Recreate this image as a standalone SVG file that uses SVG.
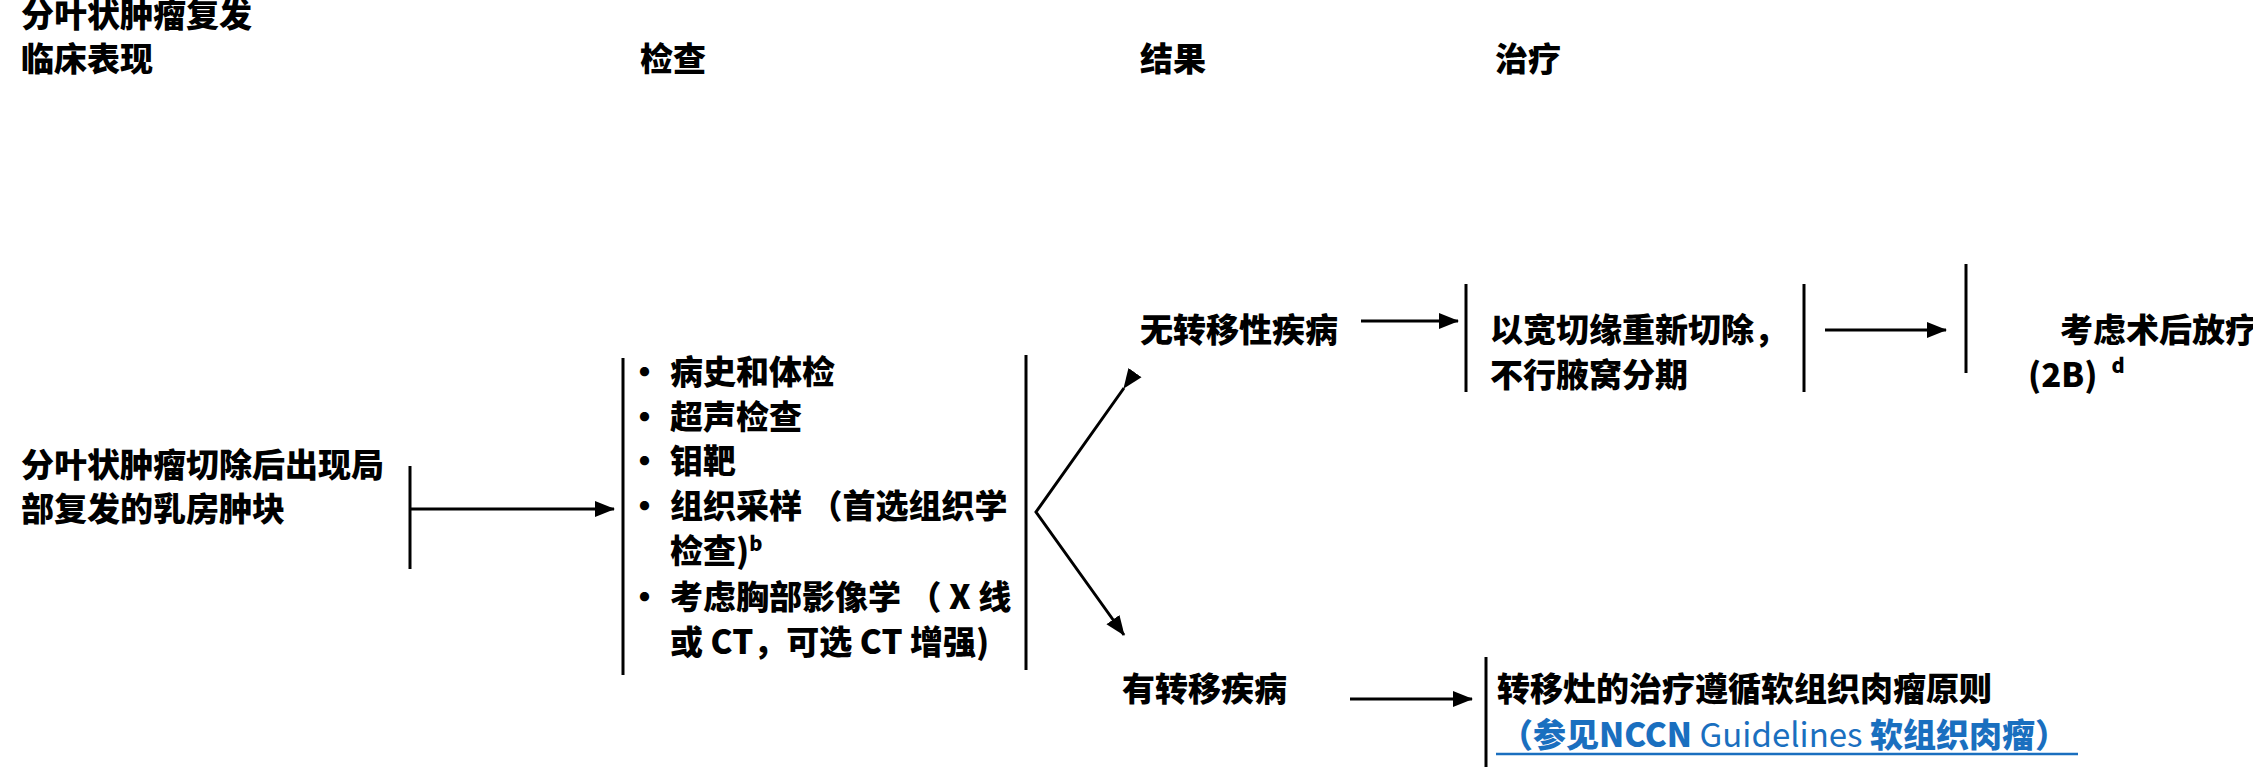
<svg xmlns="http://www.w3.org/2000/svg" width="2253" height="780" viewBox="0 0 2253 780">
<style>
text{font-family:"Noto Sans CJK SC","Noto Sans",sans-serif;font-weight:900;font-size:33px;fill:#000}
.l{stroke:#000;stroke-width:3;fill:none}
.b{fill:#1a6fbf}
.n{font-weight:normal}
.s{font-size:20px}
</style>
<defs>
<marker id="a2" markerWidth="20" markerHeight="20" refX="19" refY="10" orient="auto" markerUnits="userSpaceOnUse" viewBox="0 0 20 20"><path d="M0,2L20,10L0,18z" fill="#000"/></marker></defs>
<g id="headers">
<text x="21" y="27">分叶状肿瘤复发</text>
<text x="21" y="71">临床表现</text>
<text x="640" y="71">检查</text>
<text x="1140" y="71">结果</text>
<text x="1495" y="71">治疗</text>
</g>
<g id="presentation"><text x="21" y="477">分叶状肿瘤切除后出现局</text><text x="21" y="521">部复发的乳房肿块</text></g>
<g id="workup">
<text x="628" y="384">•</text><text x="670" y="384">病史和体检</text>
<text x="628" y="429">•</text><text x="670" y="429">超声检查</text>
<text x="628" y="473">•</text><text x="670" y="473">钼靶</text>
<text x="628" y="518">•</text><text x="670" y="518">组织采样 （首选组织学</text>
<text x="670" y="563">检查)<tspan class="s" dy="-12">b</tspan></text>
<text x="628" y="609">•</text><text x="670" y="609">考虑胸部影像学 （ X 线</text>
<text x="670" y="654">或 CT，可选 CT 增强)</text>
</g>
<g id="nomet"><text x="1140" y="342">无转移性疾病</text></g>
<g id="met"><text x="1122" y="701">有转移疾病</text></g>
<g id="reexcision"><text x="1490" y="342">以宽切缘重新切除，</text><text x="1490" y="387">不行腋窝分期</text></g>
<g id="rt"><text x="2060" y="342">考虑术后放疗</text><text x="2028" y="387">(2B)<tspan class="s" dx="14" dy="-14">d</tspan></text></g>
<g id="mettx"><text x="1497" y="701">转移灶的治疗遵循软组织肉瘤原则</text>
<text x="1500" y="747" class="b">（参见NCCN <tspan class="n">Guidelines</tspan> 软组织肉瘤）</text>
<line x1="1496" y1="754" x2="2078" y2="754" stroke="#1a6fbf" stroke-width="2.5"/></g>
<g id="connectors">
<line class="l" x1="410" y1="466" x2="410" y2="569"/>
<line class="l" x1="410" y1="509" x2="614" y2="509" marker-end="url(#a2)"/>
<line class="l" x1="623" y1="358" x2="623" y2="675"/>
<line class="l" x1="1026" y1="355" x2="1026" y2="670"/>
<polyline class="l" points="1124,388 1036,512 1124,635" stroke-width="2" marker-start="url(#a2)" marker-end="url(#a2)"/>
<line class="l" x1="1361" y1="321" x2="1458" y2="321" marker-end="url(#a2)"/>
<line class="l" x1="1466" y1="284" x2="1466" y2="392" stroke-width="2"/>
<line class="l" x1="1804" y1="284" x2="1804" y2="392" stroke-width="2"/>
<line class="l" x1="1825" y1="330" x2="1946" y2="330" marker-end="url(#a2)"/>
<line class="l" x1="1966" y1="264" x2="1966" y2="373" stroke-width="2"/>
<line class="l" x1="1350" y1="699" x2="1472" y2="699" marker-end="url(#a2)"/>
<line class="l" x1="1486" y1="657" x2="1486" y2="767" stroke-width="2"/>
</g>
</svg>
